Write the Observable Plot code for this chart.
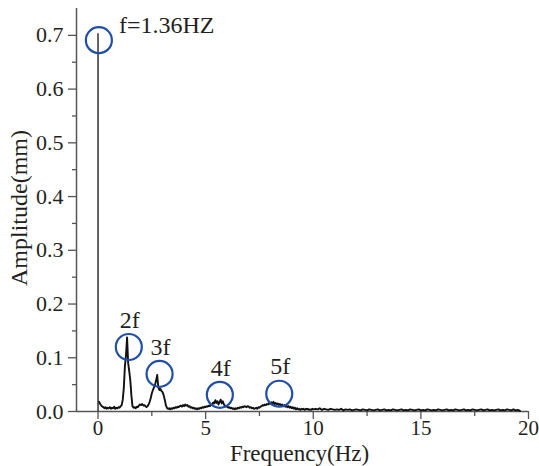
<!DOCTYPE html>
<html>
<head>
<meta charset="utf-8">
<script src="https://cdn.jsdelivr.net/npm/d3@7"></script>
<script src="https://cdn.jsdelivr.net/npm/@observablehq/plot@0.6"></script>
<style>
  html, body { margin: 0; padding: 0; background: #fff; }
  svg { display: block; }
  #chart svg text { font-family: "Liberation Serif", "Times New Roman", serif !important; }
</style>
</head>
<body>
<div id="chart"></div>
<script>
// ---- Data ----
// Spike at 0 Hz
const spikeFreq = [0];
const spikeAmp = [0.703];

// Spectrum 0.05 .. 10.00 Hz, step 0.05
const seg1Start = 0.05, seg1Step = 0.05;
const seg1Amp = [
  0.018,0.014,0.011,0.009,0.008,0.006,0.008,0.005,0.007,0.006,
  0.008,0.005,0.007,0.006,0.009,0.005,0.007,0.006,0.008,0.007,
  0.010,0.012,0.022,0.045,0.085,0.105,0.138,0.090,0.075,0.058,
  0.030,0.010,0.007,0.008,0.006,0.009,0.008,0.011,0.013,0.012,
  0.014,0.011,0.012,0.010,0.008,0.010,0.013,0.018,0.025,0.034,
  0.040,0.045,0.050,0.058,0.068,0.045,0.040,0.042,0.038,0.036,
  0.030,0.022,0.012,0.007,0.005,0.006,0.004,0.006,0.005,0.007,
  0.006,0.008,0.007,0.009,0.008,0.010,0.011,0.009,0.012,0.010,
  0.013,0.011,0.012,0.009,0.010,0.007,0.008,0.006,0.007,0.005,
  0.006,0.004,0.006,0.005,0.007,0.006,0.008,0.007,0.009,0.008,
  0.010,0.009,0.011,0.010,0.013,0.012,0.017,0.015,0.021,0.016,
  0.019,0.013,0.018,0.022,0.015,0.019,0.013,0.011,0.009,0.010,
  0.007,0.008,0.006,0.007,0.005,0.006,0.004,0.006,0.005,0.007,
  0.006,0.008,0.007,0.009,0.008,0.010,0.009,0.008,0.010,0.009,
  0.007,0.008,0.006,0.007,0.005,0.006,0.007,0.005,0.008,0.007,
  0.009,0.010,0.012,0.011,0.013,0.012,0.014,0.013,0.016,0.014,
  0.017,0.015,0.018,0.014,0.016,0.013,0.015,0.012,0.014,0.011,
  0.013,0.010,0.012,0.009,0.011,0.008,0.010,0.007,0.009,0.006,
  0.008,0.005,0.007,0.004,0.006,0.004,0.005,0.003,0.005,0.004,
  0.005,0.003,0.005,0.004,0.005,0.003,0.004,0.003,0.005,0.004
];

// Spectrum 10.1 .. 19.6 Hz, step 0.1
const seg2Start = 10.1, seg2Step = 0.1;
const seg2Amp = [
  0.005,0.004,0.006,0.003,0.005,0.004,0.003,0.005,0.004,0.003,
  0.004,0.003,0.005,0.002,0.004,0.003,0.004,0.002,0.003,0.004,
  0.003,0.002,0.004,0.003,0.002,0.004,0.003,0.002,0.003,0.004,
  0.002,0.003,0.004,0.002,0.003,0.002,0.004,0.003,0.002,0.003,
  0.004,0.002,0.003,0.002,0.004,0.003,0.002,0.003,0.004,0.002,
  0.003,0.002,0.004,0.003,0.002,0.003,0.002,0.004,0.003,0.002,
  0.003,0.004,0.002,0.003,0.002,0.004,0.003,0.002,0.003,0.004,
  0.002,0.003,0.002,0.004,0.003,0.002,0.003,0.004,0.002,0.003,
  0.004,0.002,0.003,0.002,0.003,0.004,0.002,0.003,0.002,0.004,
  0.003,0.002,0.004,0.002,0.003,0.001
];

// Highlighted harmonics (circles) and their labels
const peakFreq  = [0.04, 1.43, 2.86, 5.66, 8.42];
const peakAmp   = [0.691, 0.120, 0.070, 0.031, 0.033];
const peakLabel = ["f=1.36HZ", "2f", "3f", "4f", "5f"];

// Axes
const xTicks = [0, 5, 10, 15, 20];
const xMinor = [2.5, 7.5, 12.5, 17.5];
const yTicks = [0, 0.1, 0.2, 0.3, 0.4, 0.5, 0.6, 0.7];
const yMinor = [0.05, 0.15, 0.25, 0.35, 0.45, 0.55, 0.65];
const xLabel = "Frequency(Hz)";
const yLabel = "Amplitude(mm)";

// ---- Build tables ----
const spectrum = [
  ...seg1Amp.map((a, i) => ({f: seg1Start + i * seg1Step, a})),
  ...seg2Amp.map((a, i) => ({f: seg2Start + i * seg2Step, a}))
];
const spike = spikeFreq.map((f, i) => ({f, a: spikeAmp[i]}));
const peaks = peakFreq.map((f, i) => ({f, a: peakAmp[i], label: peakLabel[i]}));

const serif = "Liberation Serif";
const axisColor = "#555";
const textColor = "#231f20";
const circleColor = "#1f4ea6";

const chart = Plot.plot({
  width: 539,
  height: 466,
  marginLeft: 76,
  marginRight: 11,
  marginTop: 8,
  marginBottom: 55,
  style: {fontFamily: serif, fontSize: "21px", color: textColor, background: "#fff"},
  x: {domain: [-1, 20]},
  y: {domain: [0, 0.75]},
  marks: [
    // axes lines
    Plot.ruleY([0], {stroke: axisColor, strokeWidth: 1.5}),
    Plot.ruleX([-1], {stroke: axisColor, strokeWidth: 1.5}),
    // major/minor ticks
    Plot.axisX(xTicks, {label: null, tickSize: 8, tickPadding: 1, stroke: axisColor, fill: textColor, fontSize: 21, fontFamily: serif, strokeWidth: 1.3}),
    Plot.axisX(xMinor, {label: null, tickSize: 5, tickFormat: () => "", stroke: axisColor, strokeWidth: 1.3}),
    Plot.axisY(yTicks, {label: null, tickSize: 8, tickPadding: 5, tickFormat: d3.format(".1f"), stroke: axisColor, fill: textColor, fontSize: 22, fontFamily: serif, strokeWidth: 1.3}),
    Plot.axisY(yMinor, {label: null, tickSize: 4, tickFormat: () => "", stroke: axisColor, strokeWidth: 1.3}),
    // spectrum
    Plot.ruleX(spike, {x: "f", y1: 0, y2: "a", stroke: "#111", strokeWidth: 1.3}),
    Plot.line(spectrum, {x: "f", y: "a", stroke: "#111", strokeWidth: 1.9}),
    // circles
    Plot.dot(peaks, {x: "f", y: "a", r: 13, stroke: circleColor, strokeWidth: 2.2, fill: "none"}),
    // labels
    Plot.text(peaks.slice(0, 1), {x: "f", y: "a", text: "label", dx: 20, dy: -15, textAnchor: "start", fontSize: 24, fontFamily: serif, fill: textColor}),
    Plot.text(peaks.slice(1), {x: "f", y: "a", text: "label", dx: 1, dy: -27, fontSize: 24, fontFamily: serif, fill: textColor}),
    // axis titles
    Plot.text([xLabel], {frameAnchor: "bottom", textAnchor: "middle", lineAnchor: "middle", dx: -3, dy: 42, fontSize: 23, fontFamily: serif, fill: textColor}),
    Plot.text([yLabel], {frameAnchor: "left", textAnchor: "middle", lineAnchor: "middle", dx: -57, dy: -2, rotate: -90, fontSize: 24, fontFamily: serif, fill: textColor})
  ]
});
document.getElementById("chart").appendChild(chart);
</script>
</body>
</html>
